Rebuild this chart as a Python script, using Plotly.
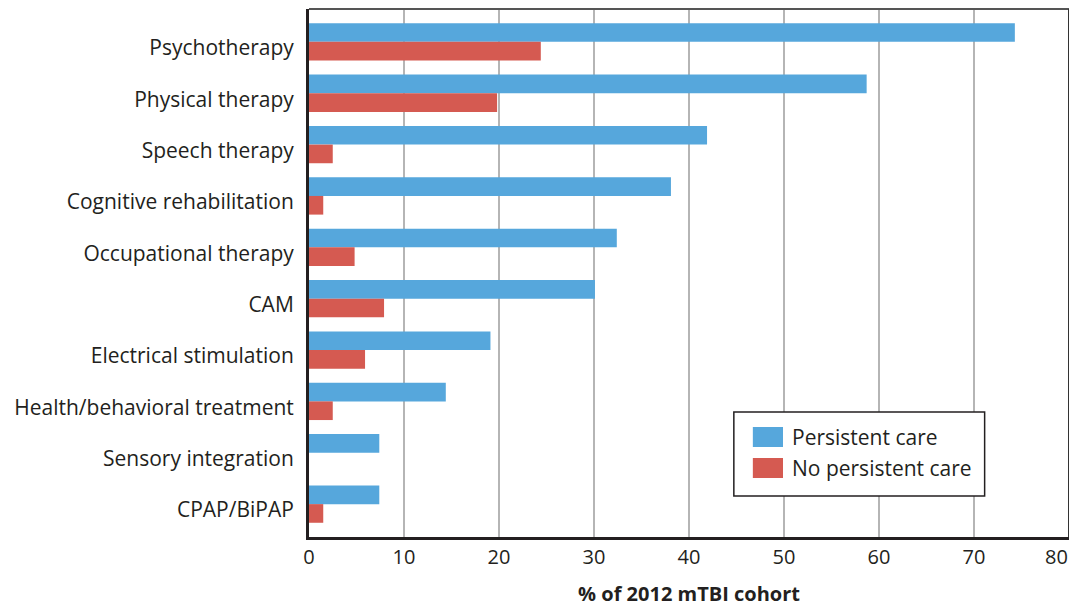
import plotly.graph_objects as go

categories = ["Psychotherapy", "Physical therapy", "Speech therapy", "Cognitive rehabilitation",
              "Occupational therapy", "CAM", "Electrical stimulation",
              "Health/behavioral treatment", "Sensory integration", "CPAP/BiPAP"]
persistent = [74.3, 58.7, 41.9, 38.1, 32.4, 30.1, 19.1, 14.4, 7.4, 7.4]
no_persistent = [24.4, 19.8, 2.5, 1.5, 4.8, 7.9, 5.9, 2.5, 0, 1.5]
x_ticks = [0, 10, 20, 30, 40, 50, 60, 70, 80]
series_names = ["Persistent care", "No persistent care"]
series_colors = ["#56a7dc", "#d55a51"]

FONT = "Open Sans"
TXT = "#231f20"

# the last tick label sits at the page edge, so it is drawn as an annotation anchored inward
tick_text = [str(t) for t in x_ticks[:-1]] + [""]

fig = go.Figure()
for name, vals, col in zip(series_names, [persistent, no_persistent], series_colors):
    fig.add_trace(go.Bar(y=categories, x=vals, orientation="h", name=name,
                         marker=dict(color=col, line=dict(width=0)), showlegend=False))

# custom legend (box, swatches, labels) in paper coordinates
shapes = [
    dict(type="line", xref="paper", yref="paper", x0=0, x1=1, y0=1, y1=1,
         line=dict(color="#555555", width=2)),
    dict(type="line", xref="paper", yref="paper", x0=1, x1=1, y0=0, y1=1,
         line=dict(color="#333333", width=2)),
    dict(type="rect", xref="paper", yref="paper", x0=0.559, x1=0.889, y0=0.0777, y1=0.2367,
         line=dict(color=TXT, width=1.5), fillcolor="white", layer="above"),
]
annotations = [dict(xref="x", yref="paper", x=x_ticks[-1], y=0, text=str(x_ticks[-1]),
                    showarrow=False, xanchor="right", yanchor="middle", xshift=1, yshift=-19,
                    font=dict(size=20, family=FONT, color=TXT))]
sw_y = [(0.1705, 0.2083), (0.1117, 0.1496)]
for (y0, y1), name, col in zip(sw_y, series_names, series_colors):
    shapes.append(dict(type="rect", xref="paper", yref="paper", x0=0.584, x1=0.6237, y0=y0, y1=y1,
                       line=dict(width=0), fillcolor=col, layer="above"))
    annotations.append(dict(xref="paper", yref="paper", x=0.6329, y=(y0 + y1) / 2, text=name,
                            showarrow=False, xanchor="left", yanchor="middle",
                            font=dict(size=21, family=FONT, color=TXT)))

fig.update_layout(
    width=1069, height=600,
    margin=dict(l=301, r=8, t=1, b=71),
    paper_bgcolor="white", plot_bgcolor="white",
    barmode="group", bargap=0.274, bargroupgap=0,
    font=dict(family=FONT, size=20, color=TXT),
    showlegend=False,
    xaxis=dict(range=[0, 80], tickvals=x_ticks, ticktext=tick_text, automargin=False,
               showgrid=True, gridcolor="#b5b5b5", gridwidth=2,
               showline=True, linecolor=TXT, linewidth=3, zeroline=False,
               ticks="", tickfont=dict(size=20, family=FONT, color=TXT),
               title=dict(text="<b>% of 2012 mTBI cohort</b>", font=dict(size=20, family=FONT, color=TXT),
                          standoff=18)),
    yaxis=dict(categoryorder="array", categoryarray=categories, range=[9.64, -0.64],
               showgrid=False, showline=True, linecolor=TXT, linewidth=3,
               ticks="", ticklabelstandoff=8, ticklabelshift=-6,
               tickfont=dict(size=21, family=FONT, color=TXT)),
    shapes=shapes,
    annotations=annotations,
)

fig.write_html("out.html")
